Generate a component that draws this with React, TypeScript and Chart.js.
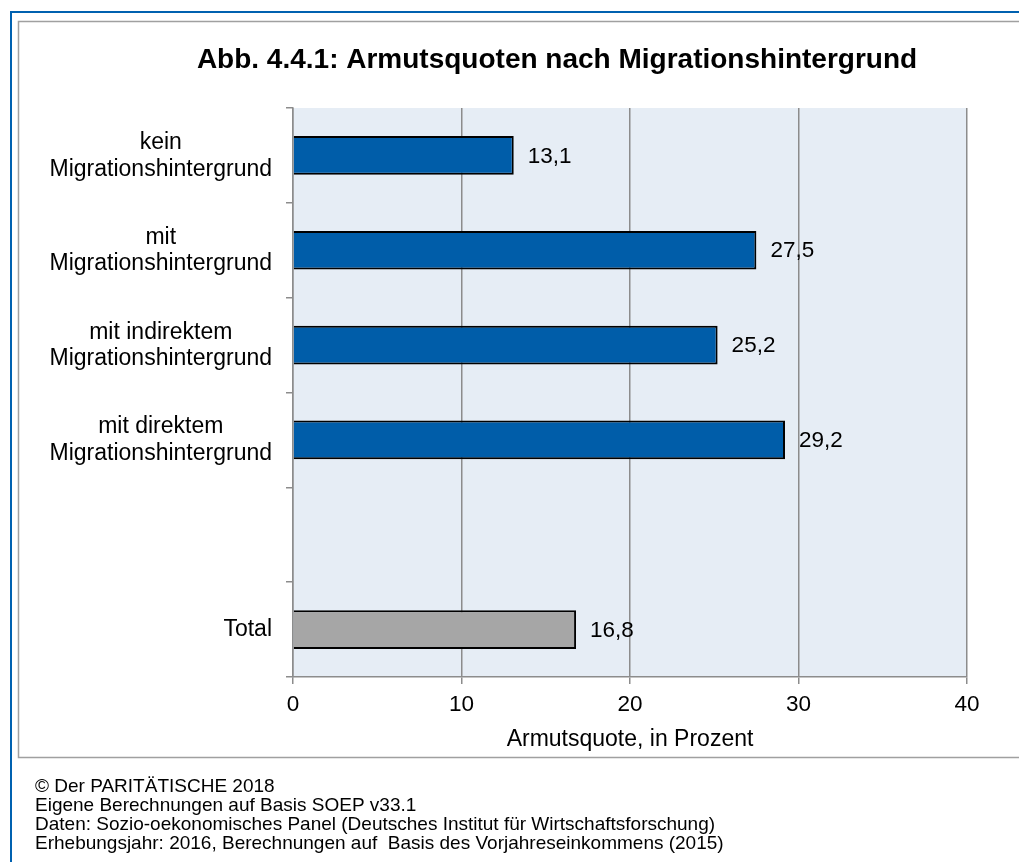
import React, { useEffect, useRef } from "react";
import { Chart, registerables } from "chart.js";

Chart.register(...registerables);

const chartTitle = "Abb. 4.4.1: Armutsquoten nach Migrationshintergrund";
const categories: string[][] = [
  ["kein", "Migrationshintergrund"],
  ["mit", "Migrationshintergrund"],
  ["mit indirektem", "Migrationshintergrund"],
  ["mit direktem", "Migrationshintergrund"],
  [""],
  ["Total"],
];
const values: (number | null)[] = [13.1, 27.5, 25.2, 29.2, null, 16.8];
const barColors = ["#005DA9", "#005DA9", "#005DA9", "#005DA9", "#005DA9", "#A6A6A6"];
const xMin = 0;
const xMax = 40;
const xStep = 10;
const xAxisTitle = "Armutsquote, in Prozent";
const footerLines = [
  "© Der PARITÄTISCHE 2018",
  "Eigene Berechnungen auf Basis SOEP v33.1",
  "Daten: Sozio-oekonomisches Panel (Deutsches Institut für Wirtschaftsforschung)",
  "Erhebungsjahr: 2016, Berechnungen auf  Basis des Vorjahreseinkommens (2015)",
];

const FONT = "Arial, 'Liberation Sans', sans-serif";
const GRID = "#8c8c8c";

const decorPlugin = {
  id: "decor",
  beforeDraw(chart: any) {
    const ctx = chart.ctx;
    const { left, right, top, bottom } = chart.chartArea;
    ctx.save();
    ctx.fillStyle = "#ffffff";
    ctx.fillRect(0, 0, chart.width, chart.height);
    // outer blue frame
    ctx.strokeStyle = "#0061B0";
    ctx.lineWidth = 2;
    ctx.beginPath();
    ctx.moveTo(11, chart.height + 5);
    ctx.lineTo(11, 12);
    ctx.lineTo(chart.width + 5, 12);
    ctx.stroke();
    // inner gray frame
    ctx.strokeStyle = "#a0a0a0";
    ctx.lineWidth = 1.5;
    ctx.beginPath();
    ctx.moveTo(chart.width + 5, 21.5);
    ctx.lineTo(18.5, 21.5);
    ctx.lineTo(18.5, 757.5);
    ctx.lineTo(chart.width + 5, 757.5);
    ctx.stroke();
    // plot background
    ctx.fillStyle = "#E6EDF5";
    ctx.fillRect(left, top, right - left, bottom - top);
    ctx.restore();
  },
  afterDraw(chart: any) {
    const ctx = chart.ctx;
    const { left, right } = chart.chartArea;
    const yScale = chart.scales.y;
    ctx.save();
    ctx.fillStyle = "#000000";
    // title
    ctx.font = `bold 28px ${FONT}`;
    ctx.textAlign = "center";
    ctx.textBaseline = "alphabetic";
    ctx.fillText(chartTitle, 557, 68);
    // category labels (right-aligned blocks, centered lines)
    ctx.font = `23px ${FONT}`;
    ctx.textBaseline = "middle";
    categories.forEach((lines, i) => {
      const cy = yScale.getPixelForValue(i);
      const maxW = Math.max(...lines.map((l) => ctx.measureText(l).width));
      const cx = 272 - maxW / 2;
      const n = lines.length;
      lines.forEach((line, j) => {
        const y = cy + (j - (n - 1) / 2) * 26.6 + (n > 1 ? 0.5 : 0);
        ctx.textAlign = "center";
        ctx.fillText(line, cx, y);
      });
    });
    // axis title
    ctx.font = `23px ${FONT}`;
    ctx.textAlign = "center";
    ctx.fillText(xAxisTitle, (left + right) / 2, 740);
    // value labels
    ctx.font = `22.5px ${FONT}`;
    ctx.textAlign = "left";
    const meta = chart.getDatasetMeta(0);
    meta.data.forEach((el: any, i: number) => {
      const v = values[i];
      if (v === null || v === undefined) return;
      ctx.fillText(v.toFixed(1).replace(".", ","), el.x + 14, el.y + 1);
    });
    // footer
    ctx.font = `19px ${FONT}`;
    ctx.textAlign = "left";
    ctx.textBaseline = "alphabetic";
    footerLines.forEach((line, i) => {
      ctx.fillText(line, 35, 792 + i * 19);
    });
    ctx.restore();
  },
};

export default function App() {
  const ref = useRef<HTMLCanvasElement>(null);
  useEffect(() => {
    if (!ref.current) return;
    const chart = new Chart(ref.current, {
      type: "bar",
      data: {
        labels: categories,
        datasets: [
          {
            data: values as any,
            backgroundColor: barColors,
            borderColor: "#000000",
            borderWidth: 2,
            barPercentage: 0.407,
            categoryPercentage: 1,
          },
        ],
      },
      options: {
        indexAxis: "y",
        responsive: false,
        animation: false,
        devicePixelRatio: 1,
        layout: { padding: { left: 0, top: 108, right: 52, bottom: 0 } },
        plugins: {
          legend: { display: false },
          title: { display: false },
          tooltip: { enabled: false },
        },
        scales: {
          x: {
            type: "linear",
            min: xMin,
            max: xMax,
            ticks: {
              stepSize: xStep,
              color: "#000000",
              font: { family: FONT, size: 22.5, lineHeight: 1.2 },
              padding: 7,
            },
            grid: {
              color: GRID,
              lineWidth: 1.5,
              drawTicks: true,
              tickLength: 7,
              tickColor: GRID,
            },
            border: { display: true, color: GRID, width: 1.5 },
            afterFit: (scale: any) => {
              scale.height = 185;
            },
          },
          y: {
            type: "category",
            offset: true,
            ticks: { display: false },
            grid: {
              offset: true,
              drawOnChartArea: false,
              drawTicks: true,
              tickLength: 7,
              tickColor: GRID,
              lineWidth: 1.5,
              color: GRID,
            },
            border: { display: true, color: GRID, width: 1.5 },
            afterFit: (scale: any) => {
              scale.width = 293;
            },
          },
        },
      },
      plugins: [decorPlugin],
    } as any);
    return () => chart.destroy();
  }, []);
  return (
    <canvas
      ref={ref}
      width={1019}
      height={862}
      style={{ position: "absolute", left: 0, top: 0, width: 1019, height: 862 }}
    />
  );
}
